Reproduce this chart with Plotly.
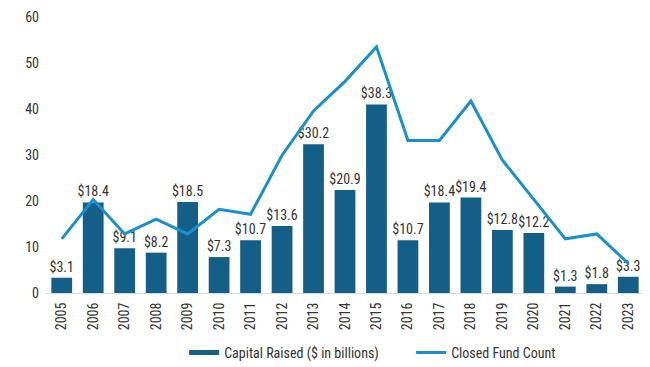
import plotly.graph_objects as go

years = [str(y) for y in range(2005, 2024)]
capital_raised = [3.1, 18.4, 9.1, 8.2, 18.5, 7.3, 10.7, 13.6, 30.2, 20.9, 38.3,
                  10.7, 18.4, 19.4, 12.8, 12.2, 1.3, 1.8, 3.3]
fund_count = [11, 19, 12, 15, 12, 17, 16, 28, 37, 43, 50, 31, 31, 39, 27, 19, 11, 12, 6]
bar_labels = ["$" + f"{v:.1f}" for v in capital_raised]
y_ticks = [0, 10, 20, 30, 40, 50, 60]

FONT = "Roboto Condensed"
BAR_COLOR = "#135f87"
LINE_COLOR = "#1a8fd0"
TEXT_COLOR = "#333333"

fig = go.Figure()
# anchor trace so the visible left axis is drawn
fig.add_trace(go.Scatter(x=[years[0]], y=[0], yaxis="y", mode="markers",
                         marker=dict(opacity=0, size=1), showlegend=False, hoverinfo="skip"))
fig.add_trace(go.Bar(
    x=years, y=capital_raised, yaxis="y2",
    marker=dict(color=BAR_COLOR, line=dict(width=0)),
    text=bar_labels, textposition="outside", cliponaxis=False, constraintext="none",
    textfont=dict(family=FONT, size=14, color=TEXT_COLOR),
    showlegend=False, hoverinfo="x+y",
))
# legend-only entry to mimic wide bar swatch
fig.add_trace(go.Scatter(
    x=[None], y=[None], mode="lines", yaxis="y2",
    line=dict(color=BAR_COLOR, width=5),
    name="Capital Raised ($ in billions)",
))
fig.add_trace(go.Scatter(
    x=years, y=fund_count, yaxis="y2", mode="lines",
    line=dict(color=LINE_COLOR, width=3),
    name="Closed Fund Count", cliponaxis=False,
))

fig.update_layout(
    width=642, height=359,
    margin=dict(l=38, r=6, t=9, b=74, autoexpand=False),
    paper_bgcolor="white", plot_bgcolor="white",
    font=dict(family=FONT, size=14, color=TEXT_COLOR),
    bargap=0.34,
    xaxis=dict(type="category", range=[-0.5, len(years) - 0.5], tickangle=-90,
               showline=True, linecolor="#d9d9d9", ticklabelstandoff=3,
               linewidth=1, showgrid=False, ticks="", automargin=False,
               tickfont=dict(family=FONT, size=14, color=TEXT_COLOR)),
    yaxis=dict(range=[0, 60], tickvals=y_ticks, showgrid=False, zeroline=False,
               showline=False, ticks="", ticklabelstandoff=6, automargin=False,
               tickfont=dict(family=FONT, size=14, color=TEXT_COLOR)),
    yaxis2=dict(range=[0, 56.07], overlaying="y", visible=False, showgrid=False),
    legend=dict(orientation="h", x=0.231, xanchor="left", y=-0.217, yanchor="middle",
                font=dict(family=FONT, size=14, color=TEXT_COLOR),
                itemwidth=30, entrywidth=182, traceorder="normal"),
)

fig.write_html("out.html")
